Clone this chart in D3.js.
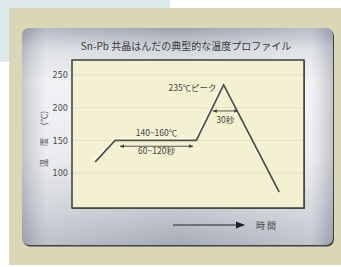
<!DOCTYPE html>
<html>
<head>
<meta charset="utf-8">
<script src="https://cdn.jsdelivr.net/npm/d3@7"></script>
<style>
  body { margin: 0; background: #fff; }
  svg { display: block; font-family: "Noto Sans CJK JP", "DejaVu Sans", sans-serif; }
</style>
</head>
<body>
<svg id="chart" width="341" height="267"></svg>
<script>
// profile points (time in s, temperature in C)
const times = [28, 52, 150, 183, 250];
const temps = [117, 150, 150, 235, 71];
const yTicks = [100, 150, 200, 250];

const title = 'Sn-Pb 共晶はんだの典型的な温度プロファイル';
const yTitleParts = ['温', '度', '(℃)'];
const xTitle = '時 間';

const svg = d3.select('#chart');
const defs = svg.append('defs');

// panel gradients
const vg = defs.append('linearGradient').attr('id', 'panelV')
  .attr('x1', 0).attr('y1', 0).attr('x2', 0).attr('y2', 1);
[[0, '#9ca1af'], [0.1, '#d4d7dd'], [0.25, '#eceef1'], [0.6, '#e4e6ea'], [0.85, '#c3c6cf'], [1, '#a7abb7']]
  .forEach(([o, c]) => vg.append('stop').attr('offset', o).attr('stop-color', c));

const hg = defs.append('linearGradient').attr('id', 'panelH')
  .attr('x1', 0).attr('y1', 0).attr('x2', 1).attr('y2', 0);
[[0, '#7d8290', 0.35], [0.08, '#ffffff', 0.25], [0.5, '#ffffff', 0], [0.93, '#ffffff', 0.3], [1, '#7d8290', 0.35]]
  .forEach(([o, c, a]) => hg.append('stop').attr('offset', o).attr('stop-color', c).attr('stop-opacity', a));

defs.append('marker').attr('id', 'ah')
  .attr('viewBox', '0 0 10 10').attr('refX', 9).attr('refY', 5)
  .attr('markerWidth', 5).attr('markerHeight', 5).attr('orient', 'auto-start-reverse')
  .append('path').attr('d', 'M0,1L10,5L0,9Z').attr('fill', '#444');

defs.append('marker').attr('id', 'ahBig')
  .attr('viewBox', '0 0 10 10').attr('refX', 9).attr('refY', 5)
  .attr('markerWidth', 9).attr('markerHeight', 9).attr('markerUnits', 'userSpaceOnUse')
  .attr('orient', 'auto')
  .append('path').attr('d', 'M0,1L10,5L0,9Z').attr('fill', '#222');

// backgrounds
svg.append('rect').attr('x', 0).attr('y', 0).attr('width', 170).attr('height', 62).attr('fill', '#dde9eb');
svg.append('rect').attr('x', 9).attr('y', 8).attr('width', 332).attr('height', 257).attr('fill', '#d9d7b6');

const panel = { x: 22, y: 28, w: 311, h: 217 };
svg.append('rect').attr('x', panel.x + 1).attr('y', panel.y + 1.5)
  .attr('width', panel.w).attr('height', panel.h).attr('rx', 7)
  .attr('fill', '#3f4340');
svg.append('rect').attr('x', panel.x).attr('y', panel.y)
  .attr('width', panel.w).attr('height', panel.h).attr('rx', 7)
  .attr('fill', 'url(#panelV)');
svg.append('rect').attr('x', panel.x).attr('y', panel.y)
  .attr('width', panel.w).attr('height', panel.h).attr('rx', 7)
  .attr('fill', 'url(#panelH)');

const plot = { x: 72, y: 60, w: 232, h: 148 };

const x = d3.scaleLinear().domain([0, 280]).range([plot.x, plot.x + plot.w]);
const y = d3.scaleLinear().domain([46.5, 273]).range([plot.y + plot.h, plot.y]);

svg.append('rect').attr('x', plot.x + 1).attr('y', plot.y + 1)
  .attr('width', plot.w).attr('height', plot.h).attr('fill', '#6b6c60');
svg.append('rect').attr('x', plot.x).attr('y', plot.y)
  .attr('width', plot.w).attr('height', plot.h)
  .attr('fill', '#f4f1d3').attr('stroke', '#3d3d38').attr('stroke-width', 1.5);

// grid
svg.append('g').selectAll('line').data(yTicks).join('line')
  .attr('x1', plot.x + 1).attr('x2', plot.x + plot.w - 1)
  .attr('y1', d => y(d)).attr('y2', d => y(d))
  .attr('stroke', '#e2dfbf').attr('stroke-width', 1);

// y axis labels
const yAxis = svg.append('g')
  .attr('transform', `translate(${plot.x},0)`)
  .call(d3.axisLeft(y).tickValues(yTicks).tickSize(0).tickPadding(4));
yAxis.select('.domain').remove();
yAxis.selectAll('text').attr('fill', '#4a4a4a').style('font-size', '9px')
  .style('font-family', '"Liberation Sans Narrow", "DejaVu Sans Condensed", sans-serif');

// vertical axis title, spread out like the original
const yTitlePos = [163, 142, 118];
svg.append('g').selectAll('text').data(yTitleParts).join('text')
  .attr('transform', (d, i) => `translate(47,${yTitlePos[i]}) rotate(-90)`)
  .attr('text-anchor', 'middle').attr('fill', '#555')
  .style('font-size', '8.5px')
  .text(d => d);

// title
svg.append('text').attr('x', 186).attr('y', 50)
  .attr('text-anchor', 'middle').attr('fill', '#3a3a3a')
  .style('font-size', '10px')
  .text(title);

// profile curve
const line = d3.line().x((d, i) => x(times[i])).y(d => y(d));
svg.append('path').attr('d', line(temps))
  .attr('fill', 'none').attr('stroke', '#fffdf0').attr('stroke-width', 3)
  .attr('transform', 'translate(-0.8,-0.8)');
svg.append('path').attr('d', line(temps))
  .attr('fill', 'none').attr('stroke', '#505046').attr('stroke-width', 1.7)
  .attr('stroke-linejoin', 'miter');

// annotations
const note = svg.append('g').attr('fill', '#444').style('font-size', '8.5px');

note.append('text').attr('x', x(times[3]) - 7).attr('y', y(temps[3]) + 6)
  .attr('text-anchor', 'end').text('235℃ピーク');

note.append('text').attr('x', x(102)).attr('y', y(156))
  .attr('text-anchor', 'middle').text('140~160℃');

note.append('line')
  .attr('x1', x(58)).attr('x2', x(146))
  .attr('y1', y(141)).attr('y2', y(141))
  .attr('stroke', '#444').attr('stroke-width', 0.9)
  .attr('marker-start', 'url(#ah)').attr('marker-end', 'url(#ah)');

note.append('text').attr('x', x(102)).attr('y', y(129))
  .attr('text-anchor', 'middle').text('60~120秒');

note.append('line')
  .attr('x1', x(170)).attr('x2', x(200))
  .attr('y1', y(195)).attr('y2', y(195))
  .attr('stroke', '#444').attr('stroke-width', 0.9)
  .attr('marker-start', 'url(#ah)').attr('marker-end', 'url(#ah)');

note.append('text').attr('x', x(185)).attr('y', y(177))
  .attr('text-anchor', 'middle').text('30秒');

// time arrow
svg.append('line').attr('x1', 173).attr('x2', 244).attr('y1', 225).attr('y2', 225)
  .attr('stroke', '#222').attr('stroke-width', 1)
  .attr('marker-end', 'url(#ahBig)');
svg.append('text').attr('x', 256).attr('y', 228.5)
  .attr('fill', '#444').style('font-size', '9px')
  .text(xTitle);
</script>
</body>
</html>
